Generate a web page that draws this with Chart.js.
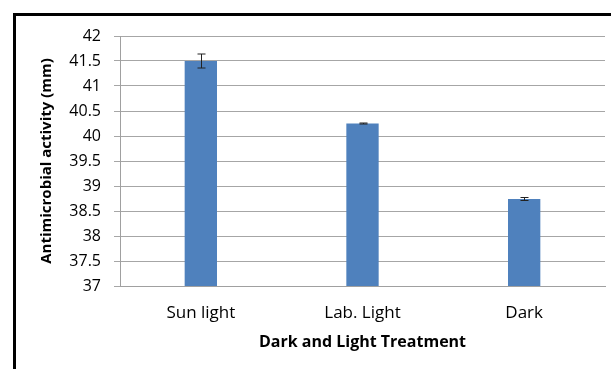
<!DOCTYPE html>
<html><head><meta charset="utf-8">
<script src="https://cdn.jsdelivr.net/npm/chart.js@4/dist/chart.umd.min.js"></script>
<style>
html,body{margin:0;padding:0;background:#fff;}
#wrap{position:relative;width:611px;height:369px;}
#frame{position:absolute;left:13px;top:13px;right:-5px;bottom:-5px;border-top:3px solid #000;border-left:3px solid #000;pointer-events:none;}
canvas{position:absolute;left:0;top:0;}
</style></head><body>
<div id="wrap"><canvas id="c" width="611" height="369"></canvas><div id="frame"></div></div>
<script>
const categories = ["Sun light", "Lab. Light", "Dark"];
const values = [41.5, 40.25, 38.74];
const errors = [0.14, 0.01, 0.03];
const yTicks = [37, 37.5, 38, 38.5, 39, 39.5, 40, 40.5, 41, 41.5, 42];

const FONT = "'Open Sans', sans-serif";

const errorBars = {
  id: 'errorBars',
  afterDatasetsDraw(chart) {
    const ctx = chart.ctx;
    const meta = chart.getDatasetMeta(0);
    const ys = chart.scales.y;
    ctx.save();
    ctx.strokeStyle = '#222';
    ctx.lineWidth = 1;
    meta.data.forEach((bar, i) => {
      const x = Math.round(bar.x) + 0.5;
      const top = ys.getPixelForValue(values[i] + errors[i]);
      const bot = ys.getPixelForValue(values[i] - errors[i]);
      ctx.beginPath();
      ctx.moveTo(x, top); ctx.lineTo(x, bot);
      ctx.moveTo(x - 4, top); ctx.lineTo(x + 4, top);
      ctx.moveTo(x - 4, bot); ctx.lineTo(x + 4, bot);
      ctx.stroke();
    });
    ctx.restore();
  }
};

new Chart(document.getElementById('c'), {
  type: 'bar',
  data: {
    labels: categories,
    datasets: [{
      data: values,
      backgroundColor: '#4f81bd',
      borderColor: '#4a7ab3',
      borderWidth: 0,
      barPercentage: 0.2,
      categoryPercentage: 1.0
    }]
  },
  options: {
    responsive: false,
    animation: false,
    devicePixelRatio: 1,
    layout: { padding: { left: 0, right: 6, top: 36, bottom: 0 } },
    plugins: { legend: { display: false }, tooltip: { enabled: false } },
    scales: {
      x: {
        grid: { color: 'transparent', drawTicks: false },
        border: { color: '#a0a0a0', width: 1 },
        ticks: { color: '#000', font: { family: FONT, size: 17 }, padding: 17 },
        title: { display: true, text: 'Dark and Light Treatment', color: '#000',
                 font: { family: FONT, size: 16, weight: 'bold' }, padding: { bottom: 17 } },
        afterFit(s) { s.height = 83; }
      },
      y: {
        min: 37, max: 42,
        afterBuildTicks(s) { s.ticks = yTicks.map(v => ({ value: v })); },
        grid: { color: '#a6a6a6', tickLength: 6 },
        border: { color: '#a0a0a0', width: 1 },
        ticks: { color: '#000', font: { family: FONT, size: 16 }, padding: 13,
                 callback: v => String(v) },
        title: { display: true, text: 'Antimicrobial activity (mm)', color: '#000',
                 font: { family: FONT, size: 15, weight: 'bold' }, padding: { top: 38 } },
        afterFit(s) { s.width = 120; }
      }
    }
  },
  plugins: [errorBars]
});
</script>
</body></html>
